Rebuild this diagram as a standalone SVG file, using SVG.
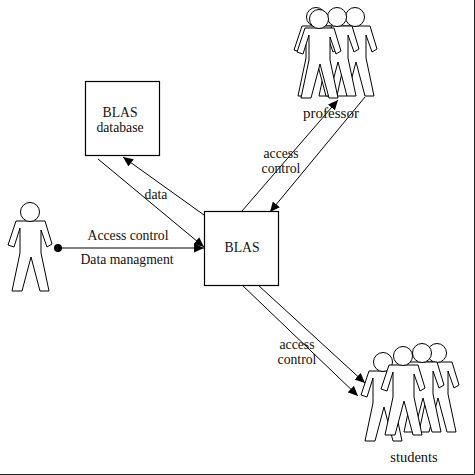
<svg xmlns="http://www.w3.org/2000/svg" width="475" height="475" viewBox="0 0 475 475">
<style>
text{font-family:"Liberation Serif","Times New Roman",serif;font-size:13.7px;fill:#111;text-anchor:middle}
.box{fill:#fff;stroke:#000;stroke-width:1.2}
.c{stroke:#000;stroke-width:1;fill:none;marker-end:url(#a)}
.p{fill:#fff;stroke:#000;stroke-width:1}
</style>
<defs>
<marker id="a" markerUnits="userSpaceOnUse" markerWidth="11" markerHeight="9" refX="10" refY="4.5" orient="auto"><path d="M0,0L10,4.5L0,9Z" fill="#000"/></marker>
<g id="person">
<path class="p" d="M-14,9L-22,33L-16,35L-10,16L-10,41L-18,79L-8,79L1,45L10,79L19,79L11,41L11,18L17,35L22,32L15,9Z"/>
<circle class="p" cx="0" cy="0" r="9.5"/>
</g>
</defs>
<rect width="475" height="475" fill="#fff"/>
<path d="M474.5,0V474.5H0" fill="none" stroke="#222" stroke-width="1"/>
<g id="connectors">
<path class="c" d="M58,248H204"/>
<path class="c" d="M98,159L204,247"/>
<path class="c" d="M204,215L123,157"/>
<path class="c" d="M242,211L338,100"/>
<path class="c" d="M365,97L270,212"/>
<path class="c" d="M242,285L358,396"/>
<path class="c" d="M258,285L365,383"/>
<circle cx="58" cy="248" r="4" fill="#000"/>
</g>
<g id="actor"><use href="#person" x="30" y="212"/></g>
<g id="professor">
<use href="#person" x="355" y="17"/>
<use href="#person" x="337" y="17"/>
<use href="#person" x="316" y="17"/>
<use href="#person" x="319" y="19"/>
<text x="331" y="118" style="font-size:15px">professor</text>
</g>
<g id="students">
<use href="#person" x="437" y="353"/>
<use href="#person" x="422" y="353"/>
<use href="#person" x="383" y="362"/>
<use href="#person" x="403" y="356"/>
<text x="414" y="462" style="font-size:14.5px">students</text>
</g>
<g id="database">
<rect class="box" x="85.5" y="81.5" width="74" height="74"/>
<text x="120" y="117">BLAS</text>
<text x="120" y="132">database</text>
</g>
<g id="blas">
<rect class="box" x="204.5" y="211.5" width="74" height="74"/>
<text x="242" y="252">BLAS</text>
</g>
<g id="labels">
<text x="156" y="199">data</text>
<text x="128" y="240">Access control</text>
<text x="127" y="264">Data managment</text>
<text x="281" y="158">access</text>
<text x="281" y="173">control</text>
<text x="297" y="349">access</text>
<text x="297" y="364">control</text>
</g>
</svg>
